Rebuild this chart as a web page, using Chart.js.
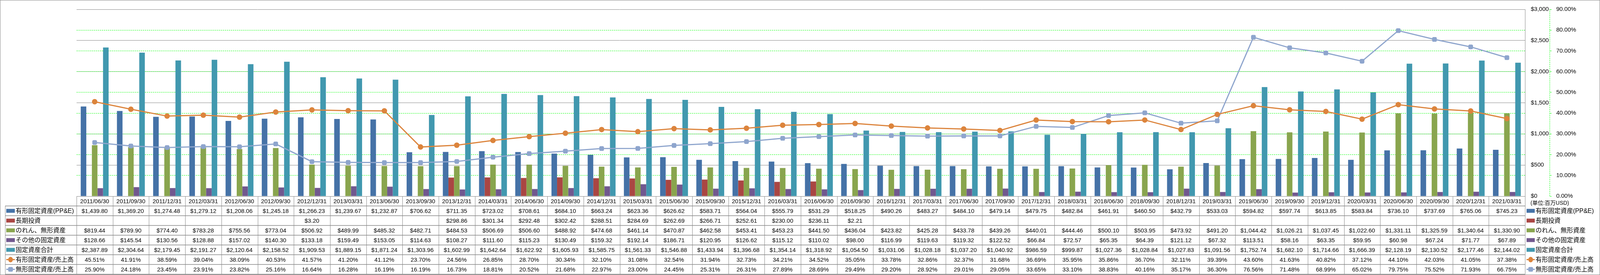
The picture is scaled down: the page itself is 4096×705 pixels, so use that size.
<!DOCTYPE html>
<html>
<head>
<meta charset="utf-8">
<script src="https://cdn.jsdelivr.net/npm/chart.js@4.4.1/dist/chart.umd.min.js"></script>
<style>
  html, body { margin: 0; padding: 0; background: #fff; }
  #wrap { width: 4096px; height: 705px; }
</style>
</head>
<body>
<div id="wrap"><canvas id="myChart" width="4096" height="705"></canvas></div>
<script>
"use strict";

const dates = [
  "2011/06/30", "2011/09/30", "2011/12/31", "2012/03/31", "2012/06/30", "2012/09/30", "2012/12/31", "2013/03/31",
  "2013/06/30", "2013/09/30", "2013/12/31", "2014/03/31", "2014/06/30", "2014/09/30", "2014/12/31", "2015/03/31",
  "2015/06/30", "2015/09/30", "2015/12/31", "2016/03/31", "2016/06/30", "2016/09/30", "2016/12/31", "2017/03/31",
  "2017/06/30", "2017/09/30", "2017/12/31", "2018/03/31", "2018/06/30", "2018/09/30", "2018/12/31", "2019/03/31",
  "2019/06/30", "2019/09/30", "2019/12/31", "2020/03/31", "2020/06/30", "2020/09/30", "2020/12/31", "2021/03/31"
];

// 百万USD
const ppe = [
  1439.80, 1369.20, 1274.48, 1279.12, 1208.06, 1245.18, 1266.23, 1239.67,
  1232.87, 706.62, 711.35, 723.02, 708.61, 684.10, 663.24, 623.36,
  626.62, 583.71, 564.04, 555.79, 531.29, 518.25, 490.26, 483.27,
  484.10, 479.14, 479.75, 482.84, 461.91, 460.50, 432.79, 533.03,
  594.82, 597.74, 613.85, 583.84, 736.10, 737.69, 765.06, 745.23
];
const longInvest = [
  null, null, null, null, null, null, 3.20, null,
  null, null, 298.86, 301.34, 292.48, 302.42, 288.51, 284.69,
  262.69, 266.71, 252.61, 230.00, 236.11, 2.21, null, null,
  null, null, null, null, null, null, null, null,
  null, null, null, null, null, null, null, null
];
const goodwill = [
  819.44, 789.90, 774.40, 783.28, 755.56, 773.04, 506.92, 489.99,
  485.32, 482.71, 484.53, 506.69, 506.60, 488.92, 474.68, 461.14,
  470.87, 462.58, 453.41, 453.23, 441.50, 436.04, 423.82, 425.28,
  433.78, 439.26, 440.01, 444.46, 500.10, 503.95, 473.92, 491.20,
  1044.42, 1026.21, 1037.45, 1022.60, 1331.11, 1325.59, 1340.64, 1330.90
];
const otherAssets = [
  128.66, 145.54, 130.56, 128.88, 157.02, 140.30, 133.18, 159.49,
  153.05, 114.63, 108.27, 111.60, 115.23, 130.49, 159.32, 192.14,
  186.71, 120.95, 126.62, 115.12, 110.02, 98.00, 116.99, 119.63,
  119.32, 122.52, 66.84, 72.57, 65.35, 64.39, 121.12, 67.32,
  113.51, 58.16, 63.35, 59.95, 60.98, 67.24, 71.77, 67.89
];
const totalAssets = [
  2387.89, 2304.64, 2179.45, 2191.27, 2120.64, 2158.52, 1909.53, 1889.15,
  1871.24, 1303.96, 1602.99, 1642.64, 1622.92, 1605.93, 1585.75, 1561.33,
  1546.88, 1433.94, 1396.68, 1354.14, 1318.92, 1054.50, 1031.06, 1028.18,
  1037.20, 1040.92, 986.59, 999.87, 1027.36, 1028.84, 1027.83, 1091.56,
  1752.74, 1682.10, 1714.66, 1666.39, 2128.19, 2130.52, 2177.46, 2144.02
];
// %
const ppeRatio = [
  45.51, 41.91, 38.59, 39.04, 38.09, 40.53, 41.57, 41.20,
  41.12, 23.70, 24.56, 26.85, 28.70, 30.34, 32.10, 31.08,
  32.54, 31.94, 32.73, 34.21, 34.52, 35.05, 33.78, 32.86,
  32.37, 31.68, 36.69, 35.95, 35.86, 36.70, 32.11, 39.39,
  43.60, 41.63, 40.82, 37.12, 44.10, 42.03, 41.05, 37.38
];
const intangibleRatio = [
  25.90, 24.18, 23.45, 23.91, 23.82, 25.16, 16.64, 16.28,
  16.19, 16.19, 16.73, 18.81, 20.52, 21.68, 22.97, 23.00,
  24.45, 25.31, 26.31, 27.89, 28.69, 29.49, 29.20, 28.92,
  29.01, 29.05, 33.65, 33.10, 38.83, 40.16, 35.17, 36.30,
  76.56, 71.48, 68.99, 65.02, 79.75, 75.52, 71.93, 66.75
];

const seriesNames = [
  "有形固定資産(PP&E)", "長期投資", "のれん、無形資産", "その他の固定資産",
  "固定資産合計", "有形固定資産/売上高", "無形固定資産/売上高"
];
const unitLabel = "(単位:百万USD)";

const FONT = "Liberation Sans, Noto Sans CJK JP, sans-serif";
const GRID_GRAY = "#878787";
const GREEN = "#00ff00";

const series = [
  { label: seriesNames[0], data: ppe, color: "#4572A7", kind: "bar" },
  { label: seriesNames[1], data: longInvest, color: "#AA4643", kind: "bar" },
  { label: seriesNames[2], data: goodwill, color: "#89A54E", kind: "bar" },
  { label: seriesNames[3], data: otherAssets, color: "#71588F", kind: "bar" },
  { label: seriesNames[4], data: totalAssets, color: "#4198AF", kind: "bar" },
  { label: seriesNames[5], data: ppeRatio, color: "#DC843C", kind: "line", point: "circle" },
  { label: seriesNames[6], data: intangibleRatio, color: "#8EA5CD", kind: "line", point: "rectRounded" }
];

function fmtDollar(v) {
  return "$" + v.toLocaleString("en-US", { minimumFractionDigits: 2, maximumFractionDigits: 2 });
}
function fmtPct(v) {
  return v.toFixed(2) + "%";
}

function drawSymbol(ctx, s, x0, x1, yc) {
  ctx.save();
  if (s.kind === "bar") {
    ctx.fillStyle = s.color;
    ctx.fillRect(x0, yc - 5, x1 - x0, 10);
  } else {
    ctx.strokeStyle = s.color;
    ctx.lineWidth = 3;
    ctx.beginPath();
    ctx.moveTo(x0, yc);
    ctx.lineTo(x1, yc);
    ctx.stroke();
    ctx.fillStyle = s.color;
    const xm = (x0 + x1) / 2;
    ctx.beginPath();
    if (s.point === "circle") {
      ctx.ellipse(xm, yc, 6, 7, 0, 0, Math.PI * 2);
    } else {
      ctx.roundRect(xm - 6, yc - 6, 12, 12, 3);
    }
    ctx.fill();
  }
  ctx.restore();
}

const tablePlugin = {
  id: "dataTable",
  afterDraw(chart) {
    const ctx = chart.ctx;
    const area = chart.chartArea;
    const y1 = chart.scales.y1;
    const rowH = 25;
    const headTop = area.bottom;
    const headBottom = headTop + 25;
    const tableLeft = 13;
    const tableBottom = headBottom + series.length * rowH;
    const colW = (area.right - area.left) / dates.length;

    ctx.save();
    // percent axis line (dashed)
    ctx.strokeStyle = GREEN;
    ctx.lineWidth = 1;
    ctx.setLineDash([3, 2]);
    ctx.beginPath();
    ctx.moveTo(Math.round(y1.left) + 0.5, area.top);
    ctx.lineTo(Math.round(y1.left) + 0.5, area.bottom);
    ctx.stroke();
    ctx.setLineDash([]);

    // table grid
    ctx.strokeStyle = GRID_GRAY;
    ctx.lineWidth = 1;
    ctx.beginPath();
    for (let i = 0; i <= dates.length; i++) {
      const x = Math.round(area.left + i * colW) + 0.5;
      ctx.moveTo(x, headTop);
      ctx.lineTo(x, tableBottom);
    }
    ctx.moveTo(tableLeft + 0.5, headBottom);
    ctx.lineTo(tableLeft + 0.5, tableBottom);
    ctx.stroke();
    ctx.lineWidth = 1.5;
    ctx.beginPath();
    for (let r = 0; r <= series.length; r++) {
      const y = Math.round(headBottom + r * rowH);
      ctx.moveTo(tableLeft, y);
      ctx.lineTo(area.right + 0.5, y);
    }
    ctx.stroke();

    // header dates
    ctx.fillStyle = "#000";
    ctx.textAlign = "center";
    ctx.textBaseline = "middle";
    ctx.font = "15px " + FONT;
    dates.forEach((d, i) => {
      ctx.fillText(d, area.left + (i + 0.5) * colW, (headTop + headBottom) / 2 + 1);
    });

    // cells
    series.forEach((s, r) => {
      const yc = headBottom + (r + 0.5) * rowH + 1;
      s.data.forEach((v, i) => {
        if (v === null) return;
        const txt = s.kind === "bar" ? fmtDollar(v) : fmtPct(v);
        ctx.fillText(txt, area.left + (i + 0.5) * colW, yc);
      });
    });

    // row headers and right legend
    ctx.textAlign = "left";
    ctx.font = "16px " + FONT;
    series.forEach((s, r) => {
      const yc = headBottom + (r + 0.5) * rowH;
      drawSymbol(ctx, s, 16, 38, yc);
      ctx.fillText(s.label, 40, yc + 1);
      drawSymbol(ctx, s, area.right + 4, area.right + 25, yc);
      ctx.fillText(s.label, area.right + 27, yc + 1);
    });

    // unit label
    ctx.font = "14px " + FONT;
    ctx.fillText(unitLabel, area.right + 14, headTop + 18);

    // outer border
    ctx.strokeStyle = GRID_GRAY;
    ctx.lineWidth = 1;
    ctx.strokeRect(0.5, 0.5, chart.width - 1, chart.height - 1);
    ctx.restore();
  }
};

const datasets = series.map((s) => {
  if (s.kind === "bar") {
    return {
      type: "bar",
      label: s.label,
      data: s.data,
      backgroundColor: s.color,
      yAxisID: "y",
      order: 2,
      barPercentage: 1.0,
      categoryPercentage: 0.77
    };
  }
  return {
    type: "line",
    label: s.label,
    data: s.data,
    borderColor: s.color,
    backgroundColor: s.color,
    borderWidth: 3,
    pointStyle: s.point,
    pointRadius: 7,
    pointBorderWidth: 0,
    tension: 0,
    yAxisID: "y1",
    order: 1
  };
});

const ctx = document.getElementById("myChart").getContext("2d");
const chart = new Chart(ctx, {
  type: "bar",
  data: { labels: dates, datasets: datasets },
  plugins: [tablePlugin],
  options: {
    responsive: false,
    animation: false,
    devicePixelRatio: 1,
    layout: { padding: { left: 196, top: 10, right: 0, bottom: 202 } },
    plugins: { legend: { display: false }, tooltip: { enabled: false } },
    scales: {
      x: { display: false, offset: true },
      y: {
        position: "right",
        min: 0,
        max: 3000,
        afterFit: (scale) => { scale.width = 63; },
        ticks: {
          stepSize: 500,
          padding: 15,
          color: "#000",
          font: { family: FONT, size: 15 },
          callback: (v) => "$" + v.toLocaleString("en-US")
        },
        grid: { color: GRID_GRAY, lineWidth: 1, drawTicks: false },
        border: { display: true, color: GRID_GRAY, width: 1 }
      },
      y1: {
        position: "right",
        min: 0,
        max: 90,
        afterFit: (scale) => { scale.width = 129; },
        ticks: {
          stepSize: 10,
          padding: 12,
          color: "#000",
          font: { family: FONT, size: 15 },
          callback: (v) => v.toFixed(2) + "%"
        },
        grid: {
          color: (c) => (c.tick && (c.tick.value === 0 || c.tick.value === 90)) ? "rgba(0,0,0,0)" : GREEN,
          tickColor: GREEN,
          lineWidth: 1,
          drawTicks: true,
          tickLength: 5
        },
        border: { display: false, dash: [3, 2] }
      }
    }
  }
});
</script>
</body>
</html>
